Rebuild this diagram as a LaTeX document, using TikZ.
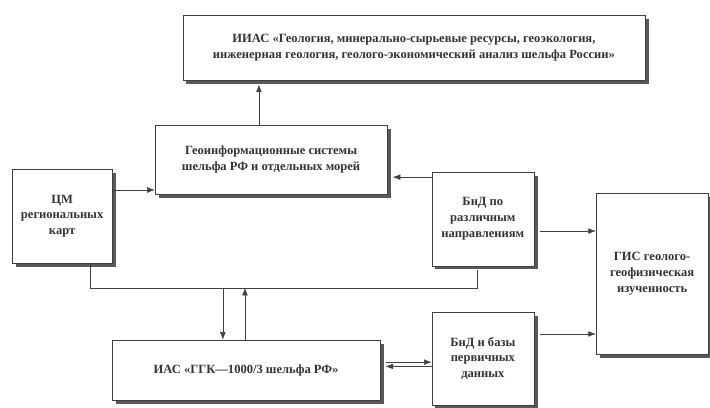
\documentclass[tikz,border=0pt]{standalone}
\usepackage{fontspec}
\setmainfont{Liberation Serif}
\usepackage{tikz}
\usetikzlibrary{arrows.meta,shadows}

\tikzset{
  blok/.style={draw=black!75, thin, fill=white, align=center, inner sep=2pt,
    font=\fontsize{10}{12.6}\selectfont\bfseries, text=black!80,
    drop shadow={shadow xshift=.1cm, shadow yshift=-.1cm, fill=black!65, opacity=1}},
  link/.style={-{Latex[length=6pt, width=4.5pt]}, draw=black!75, thin}
}

\begin{document}
\begin{tikzpicture}
      \useasboundingbox (0, 0) rectangle (19.88, -11.40);
      \node[blok, minimum width=12.94cm, minimum height=1.82cm] (iias) at (11.59, -1.33)
        {ИИАС «Геология, минерально-сырьевые ресурсы, геоэкология,\\
         инженерная геология, геолого-экономический анализ шельфа России»};
      \node[blok, minimum width=6.50cm, minimum height=1.93cm] (geo) at (7.59, -4.47)
        {Геоинформационные системы\\ шельфа РФ и отдельных морей};
      \node[blok, minimum width=2.80cm, minimum height=2.63cm] (tsm) at (1.74, -6.05)
        {ЦМ\\ региональных\\ карт};
      \node[blok, minimum width=2.86cm, minimum height=2.63cm] (bidn) at (13.52, -6.13)
        {БнД по\\ различным\\ направлениям};
      \node[blok, minimum width=3.14cm, minimum height=4.51cm] (gis) at (18.26, -7.66)
        {ГИС геолого-\\ геофизическая\\ изученность};
      \node[blok, minimum width=7.50cm, minimum height=1.68cm] (ias) at (6.89, -10.36)
        {ИАС «ГГК—1000/3 шельфа РФ»};
      \node[blok, minimum width=2.86cm, minimum height=2.60cm] (bidb) at (13.52, -10.04)
        {БнД и базы\\ первичных\\ данных};
      % arrows between the boxes
      \draw[link] ([xshift=-.34cm]geo.north) -- ([xshift=-.34cm, yshift=-.12cm]geo.north |- iias.south);
      \draw[link] ([yshift=.73cm]tsm.east) -- ([yshift=.73cm]tsm.east -| geo.west);
      \draw[link] ([yshift=1.17cm]bidn.west) -- ([xshift=.15cm, yshift=1.17cm]bidn.west -| geo.east);
      \draw[link] ([xshift=.15cm, yshift=-.34cm]bidn.east) -- ([yshift=-.34cm]bidn.east -| gis.west);
      \draw[link] ([xshift=.15cm, yshift=.69cm]bidb.east) -- ([yshift=.69cm]bidb.east -| gis.west);
      \draw[link] ([xshift=.15cm, yshift=.22cm]ias.east) -- ([yshift=.22cm]ias.east -| bidb.west);
      \draw[link] ([yshift=-.22cm]bidb.west) -- ([xshift=.15cm, yshift=-.22cm]bidb.west -| ias.east);
      % common line under the middle row
      \coordinate (bus) at (0, -8.06);
      \draw[draw=black!75, thin] ([xshift=.78cm]tsm.south) -- ([xshift=.78cm]tsm.south |- bus)
        -- ([xshift=-.16cm]bidn.south |- bus) -- ([xshift=-.16cm, yshift=-.12cm]bidn.south);
      \draw[link] ([xshift=-.65cm]ias.north |- bus) -- ([xshift=-.65cm]ias.north);
      \draw[link] ([xshift=-.03cm]ias.north) -- ([xshift=-.03cm]ias.north |- bus);
\end{tikzpicture}
\end{document}
